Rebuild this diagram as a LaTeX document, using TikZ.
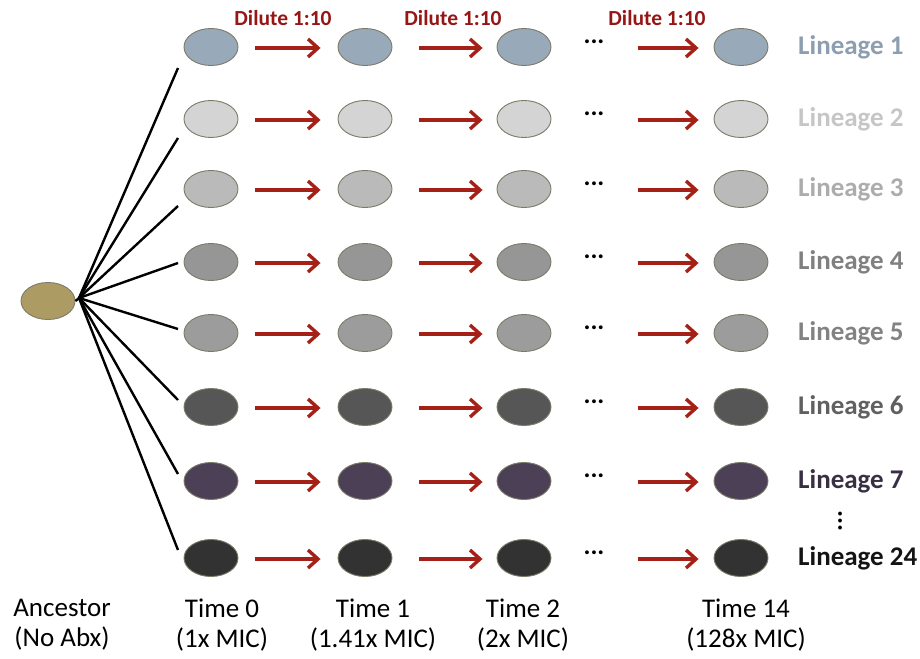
\documentclass[tikz,border=0pt]{standalone}
\usepackage{fontspec}
\setmainfont{Carlito}
\usetikzlibrary{arrows.meta,shapes.geometric}
\definecolor{arrred}{RGB}{165,32,22}
\definecolor{dilred}{RGB}{150,22,22}
\definecolor{rimc}{RGB}{125,122,105}
\definecolor{ancf}{RGB}{172,156,100}
\definecolor{fA}{RGB}{152,170,186}\definecolor{tA}{RGB}{140,158,176}
\definecolor{fB}{RGB}{212,212,212}\definecolor{tB}{RGB}{198,198,198}
\definecolor{fC}{RGB}{186,186,186}\definecolor{tC}{RGB}{172,172,172}
\definecolor{fD}{RGB}{150,150,150}\definecolor{tD}{RGB}{128,128,128}
\definecolor{fE}{RGB}{156,156,156}\definecolor{tE}{RGB}{130,130,130}
\definecolor{fF}{RGB}{86,86,86}\definecolor{tF}{RGB}{96,96,96}
\definecolor{fG}{RGB}{76,64,86}\definecolor{tG}{RGB}{56,48,66}
\definecolor{fH}{RGB}{50,50,50}\definecolor{tH}{RGB}{20,20,20}
\tikzset{
  cell/.style={ellipse, draw=rimc, line width=0.9pt, minimum width=54pt, minimum height=37pt, inner sep=0pt},
  dilarrow/.style={draw=arrred, line width=3.4pt, -{Straight Barb[length=10pt, width=18pt, line width=3.4pt]}},
  fanline/.style={draw=black, line width=2.4pt},
  lintext/.style={font=\bfseries\fontsize{27}{29}\selectfont, anchor=west, inner sep=0pt},
  diltext/.style={font=\bfseries\fontsize{21.5}{23}\selectfont, text=dilred, inner sep=0pt},
  bottext/.style={font=\fontsize{27}{30}\selectfont, align=center, inner sep=0pt},
  dots/.style={font=\bfseries\fontsize{26}{28}\selectfont, inner sep=0pt}
}
\begin{document}
\begin{tikzpicture}[x=1pt,y=-1pt]
\useasboundingbox (0,0) rectangle (920,658);
% ancestor
\node[cell, fill=ancf] (anc) at (48,301) {};
\coordinate (hub) at (79,298);
\draw[fanline] (anc.east) -- (hub);
% rows
\foreach \r/\y/\f/\t/\lab/\ey in {
  1/47/fA/tA/Lineage 1/68,
  2/119/fB/tB/Lineage 2/138,
  3/189/fC/tC/Lineage 3/206,
  4/262/fD/tD/Lineage 4/263,
  5/333/fE/tE/Lineage 5/329,
  6/407/fF/tF/Lineage 6/400,
  7/481/fG/tG/Lineage 7/474,
  8/558/fH/tH/Lineage 24/550} {
  \node[cell, fill=\f] (c0r\r) at (211,\y) {};
  \node[cell, fill=\f] (c1r\r) at (365,\y) {};
  \node[cell, fill=\f] (c2r\r) at (524,\y) {};
  \node[cell, fill=\f] (c3r\r) at (741,\y) {};
  \node[dots] (d\r) at (594,\y-5) {...};
  \node[lintext, text=\t] (lab\r) at (798,\y) {\lab};
  \coordinate (e\r) at (178,\ey);
  \draw[fanline] (hub) -- (e\r);
  \draw[dilarrow] ([xshift=-2pt]c0r\r.east) ++(19,1) coordinate (a\r) -- ([xshift=-17pt]c1r\r.west |- a\r);
  \draw[dilarrow] (c1r\r.east) ++(27,1) coordinate (b\r) -- ([xshift=-14pt]c2r\r.west |- b\r);
  \draw[dilarrow] (c3r\r.west) ++(-76,1) coordinate (g\r) -- ([xshift=-15pt]c3r\r.west |- g\r);
}
\node[font=\bfseries\fontsize{26}{28}\selectfont, inner sep=0pt] (vdots) at (840,521) {\rotatebox{90}{...}};
% dilute labels
\node[diltext] (dl1) at (283,18) {Dilute 1:10};
\node[diltext] (dl2) at (453,18) {Dilute 1:10};
\node[diltext] (dl3) at (657,18) {Dilute 1:10};
% bottom labels
\node[bottext] (ba) at (62,625) {Ancestor\\(No Abx)};
\node[bottext] (b0) at (222,625) {Time 0\\(1x MIC)};
\node[bottext] (b1) at (373,625) {Time 1\\(1.41x MIC)};
\node[bottext] (b2) at (523,625) {Time 2\\(2x MIC)};
\node[bottext] (b3) at (746,625) {Time 14\\(128x MIC)};
\end{tikzpicture}
\end{document}
